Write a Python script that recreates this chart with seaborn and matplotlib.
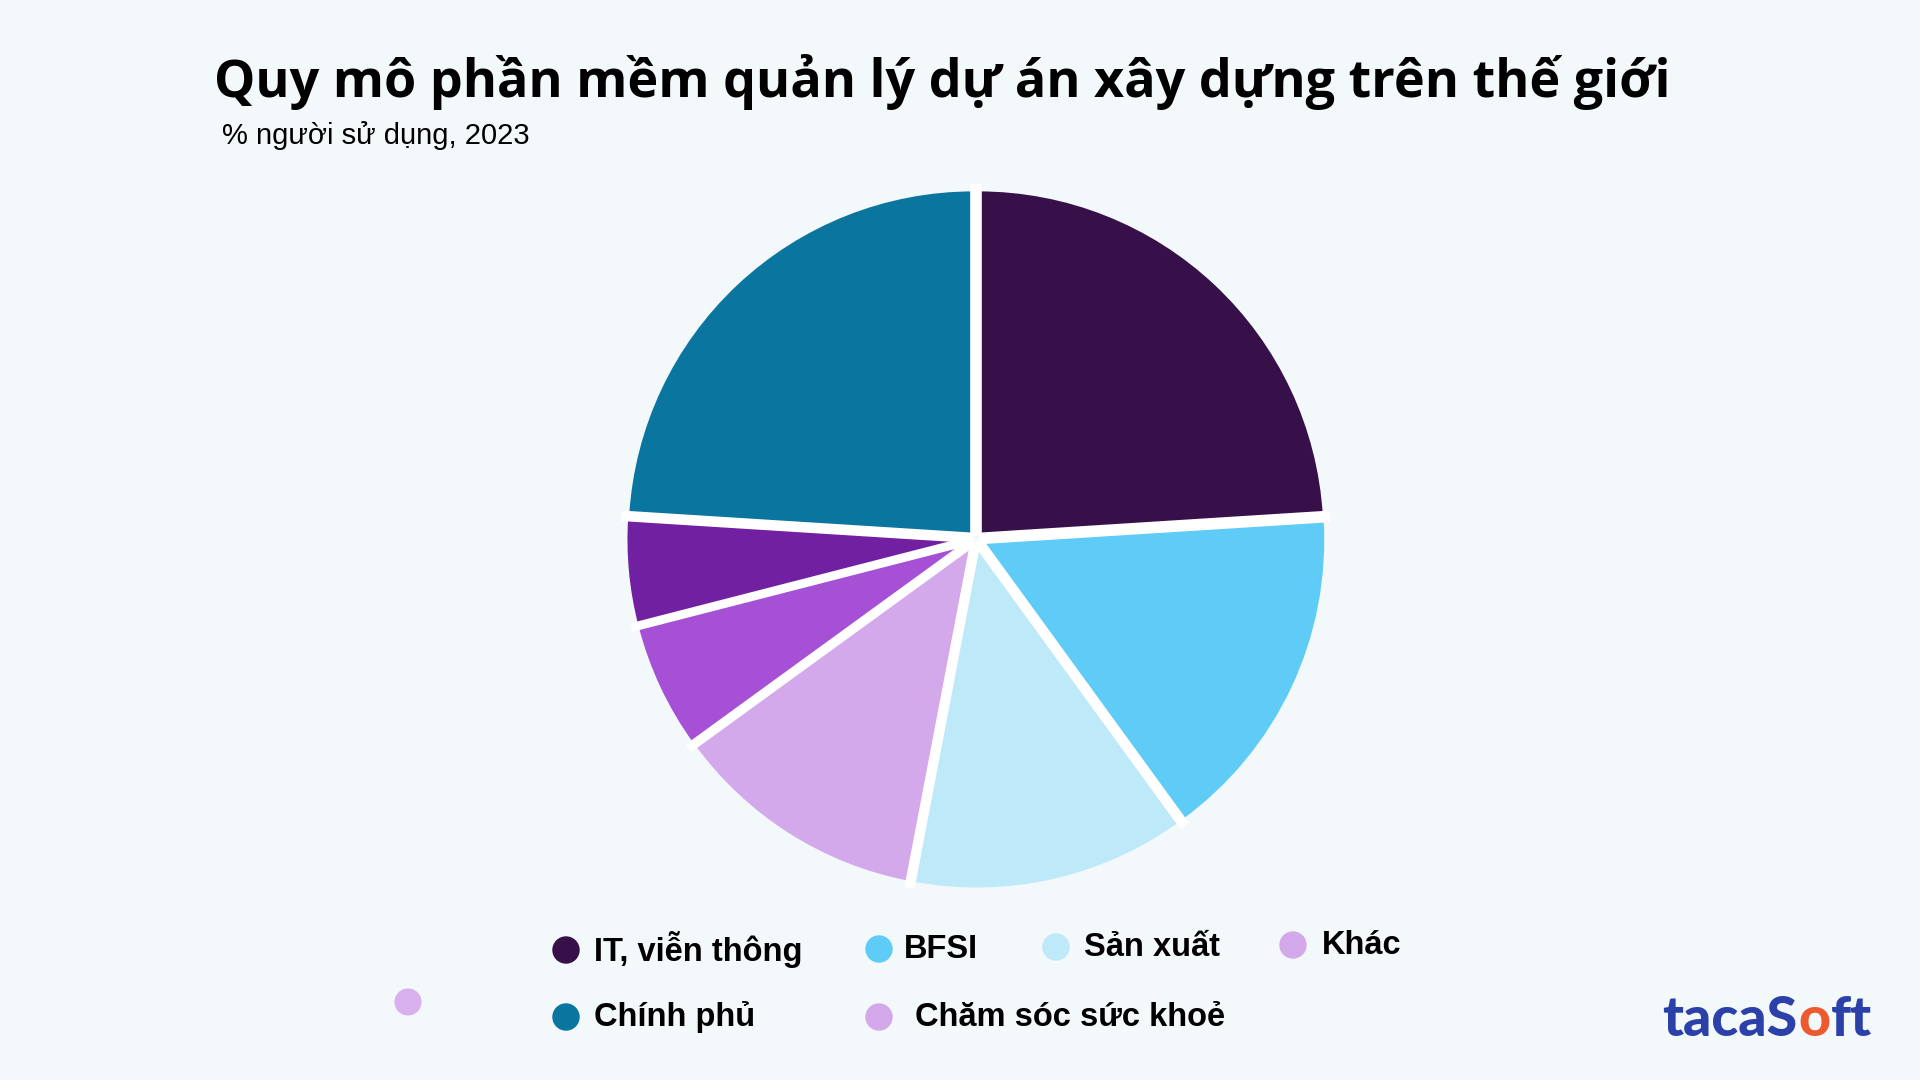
import matplotlib
matplotlib.use("Agg")
import numpy as np
import matplotlib.pyplot as plt
import seaborn as sns

# dữ liệu
slices = ["IT, viễn thông", "BFSI", "Sản xuất", "Chăm sóc sức khoẻ", "Nhóm 5", "Nhóm 6", "Chính phủ"]
shares = [24, 16, 13, 12, 6, 5, 24]
slice_colors = ["#37104A", "#5ECCF7", "#BDE9F9", "#D4A9EC", "#A650D6", "#7020A0", "#0A769F"]

legend_labels = ["IT, viễn thông", "BFSI", "Sản xuất", "Khác", "Chính phủ", "Chăm sóc sức khoẻ"]
legend_colors = ["#37104A", "#5ECCF7", "#BDE9F9", "#D4A9EC", "#0A769F", "#D4A9EC"]

title = "Quy mô phần mềm quản lý dự án xây dựng trên thế giới"
subtitle = "% người sử dụng, 2023"

bg = "#F3F8FB"
sns.set_theme(style="white")
plt.rcParams["font.family"] = ["Liberation Sans", "DejaVu Sans"]

fig = plt.figure(figsize=(19.2, 10.8), dpi=100, facecolor=bg)

# pie
ax = fig.add_axes([624 / 1920, 189 / 1080, 704 / 1920, 704 / 1080])
ax.set_facecolor(bg)
wedges, _ = ax.pie(shares, colors=slice_colors, startangle=90, counterclock=False,
                   explode=[0.01] * len(shares),
                   wedgeprops=dict(linewidth=0, clip_on=False))
# white separators between slices (only radial edges, no outer ring)
for w in wedges:
    cx, cy = w.center
    r = w.r
    for th in (w.theta1, w.theta2):
        t = np.deg2rad(th)
        ax.plot([cx, cx + 1.02 * r * np.cos(t)], [cy, cy + 1.02 * r * np.sin(t)],
                color="white", lw=5.5, solid_capstyle="butt", clip_on=False)
ax.set_xlim(-1.02, 1.02)
ax.set_ylim(-1.02, 1.02)
ax.set_aspect("equal")
ax.axis("off")

# overlay in pixel coords
ov = fig.add_axes([0, 0, 1, 1], facecolor="none")
ov.set_xlim(0, 1920)
ov.set_ylim(1080, 0)
ov.axis("off")

ov.text(214, 82, title, fontsize=37.5, fontweight="bold", family=["Open Sans", "DejaVu Sans"],
        ha="left", va="center", color="black")
ov.text(222, 136, subtitle, fontsize=21, ha="left", va="center", color="black")

# legend (manual layout)
dot_x = [566, 879, 1056, 1293, 566, 879]
dot_y = [950, 949, 947, 945, 1017, 1017]
text_x = [594, 904, 1084, 1322, 594, 915]
for lab, col, dx, dy, tx in zip(legend_labels, legend_colors, dot_x, dot_y, text_x):
    ov.scatter([dx], [dy], s=390, color=col, edgecolors="none")
    ov.text(tx, dy, lab, fontsize=23.5, fontweight="bold", ha="left", va="center", color="black")

ov.scatter([408], [1002], s=380, color="#D4A9EC", edgecolors="none", alpha=0.9)

# logo
logo_font = ["Lato", "DejaVu Sans"]
t1 = ov.text(1662, 1020, "tacaS", fontsize=40, fontweight="black", family=logo_font,
             color="#2B40A8", ha="left", va="center")
fig.canvas.draw()
bb = t1.get_window_extent()
x_o = bb.x1 + 1
t2 = fig.text(x_o / 1920, 1 - 1020 / 1080, "o", fontsize=40, fontweight="black", family=logo_font,
              color="#EE5A30", ha="left", va="center")
fig.canvas.draw()
bb2 = t2.get_window_extent()
fig.text((bb2.x1 + 1) / 1920, 1 - 1020 / 1080, "ft", fontsize=40, fontweight="black", family=logo_font,
         color="#2B40A8", ha="left", va="center")

fig.savefig("out.png", dpi=100, facecolor=bg)
